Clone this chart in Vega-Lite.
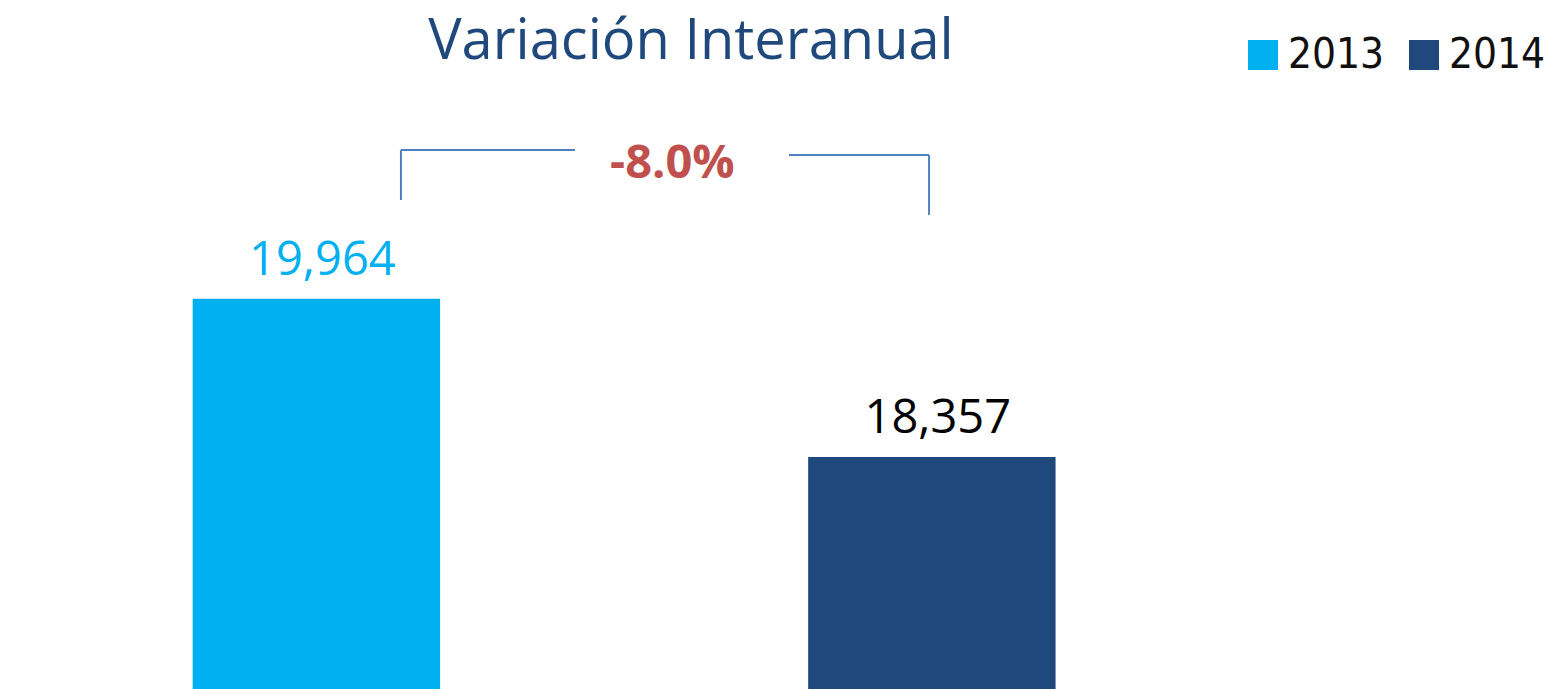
{
  "$schema": "https://vega.github.io/schema/vega-lite/v6.json",
  "width": 1551,
  "height": 689,
  "autosize": "none",
  "padding": 0,
  "background": "white",
  "config": {"view": {"stroke": null}},
  "layer": [
    {
      "data": {"values": [
        {"year": "2013", "value": 19964},
        {"year": "2014", "value": 18357}
      ]},
      "encoding": {
        "x": {"field": "year", "type": "nominal", "axis": null,
              "scale": {"paddingInner": 0.598, "paddingOuter": 0.559, "align": 0.28}},
        "y": {"field": "value", "type": "quantitative", "axis": null,
              "scale": {"domain": [16000, 23000], "zero": false, "nice": false}}
      },
      "layer": [
        {
          "mark": {"type": "bar"},
          "encoding": {
            "color": {"field": "year", "type": "nominal",
              "scale": {"domain": ["2013", "2014"], "range": ["#00B0F0", "#1F497D"]},
              "legend": {"title": null, "orient": "none", "legendX": 1242, "legendY": 34, "direction": "horizontal",
                "padding": 0, "symbolType": "square", "symbolSize": 900,
                "symbolStrokeWidth": 0, "labelFont": "'DejaVu Sans Condensed', 'Liberation Sans'",
                "labelFontSize": 42, "labelColor": "#111111", "labelOffset": 4,
                "columnPadding": 18, "labelLimit": 300}}
          }
        },
        {
          "mark": {"type": "text", "baseline": "alphabetic", "dy": -24, "dx": 6, "font": "Open Sans", "fontSize": 47},
          "encoding": {
            "text": {"field": "value", "type": "quantitative", "format": ",d"},
            "color": {"condition": {"test": "datum.year === '2013'", "value": "#00B0F0"}, "value": "#000000"}
          }
        }
      ]
    },
    {
      "data": {"values": [
        {"x": 0.2585, "x2": 0.2585, "y": 21476, "y2": 20968},
        {"x": 0.2585, "x2": 0.3707, "y": 21476, "y2": 21476},
        {"x": 0.5087, "x2": 0.599, "y": 21425, "y2": 21425},
        {"x": 0.599, "x2": 0.599, "y": 21425, "y2": 20816}
      ]},
      "mark": {"type": "rule", "color": "#4F81BD", "strokeWidth": 2},
      "encoding": {
        "x": {"field": "x", "type": "quantitative", "axis": null, "scale": {"domain": [0, 1], "nice": false, "zero": false}},
        "x2": {"field": "x2"},
        "y": {"field": "y", "type": "quantitative"},
        "y2": {"field": "y2"}
      }
    },
    {
      "data": {"values": [
        {"x": 0.4335, "y": 21334, "label": "-8.0%"}
      ]},
      "mark": {"type": "text", "baseline": "middle", "align": "center", "font": "Open Sans", "fontWeight": "bold", "fontSize": 47, "color": "#C0504D"},
      "encoding": {
        "x": {"field": "x", "type": "quantitative", "axis": null, "scale": {"domain": [0, 1], "nice": false, "zero": false}},
        "y": {"field": "y", "type": "quantitative"},
        "text": {"field": "label"}
      }
    },
    {
      "data": {"values": [
        {"x": 0.4455, "y": 22570, "label": "Variación Interanual"}
      ]},
      "mark": {"type": "text", "baseline": "middle", "align": "center", "font": "Open Sans", "fontSize": 56, "color": "#1F497D"},
      "encoding": {
        "x": {"field": "x", "type": "quantitative", "axis": null, "scale": {"domain": [0, 1], "nice": false, "zero": false}},
        "y": {"field": "y", "type": "quantitative"},
        "text": {"field": "label"}
      }
    }
  ],
  "resolve": {"scale": {"x": "independent"}}
}
